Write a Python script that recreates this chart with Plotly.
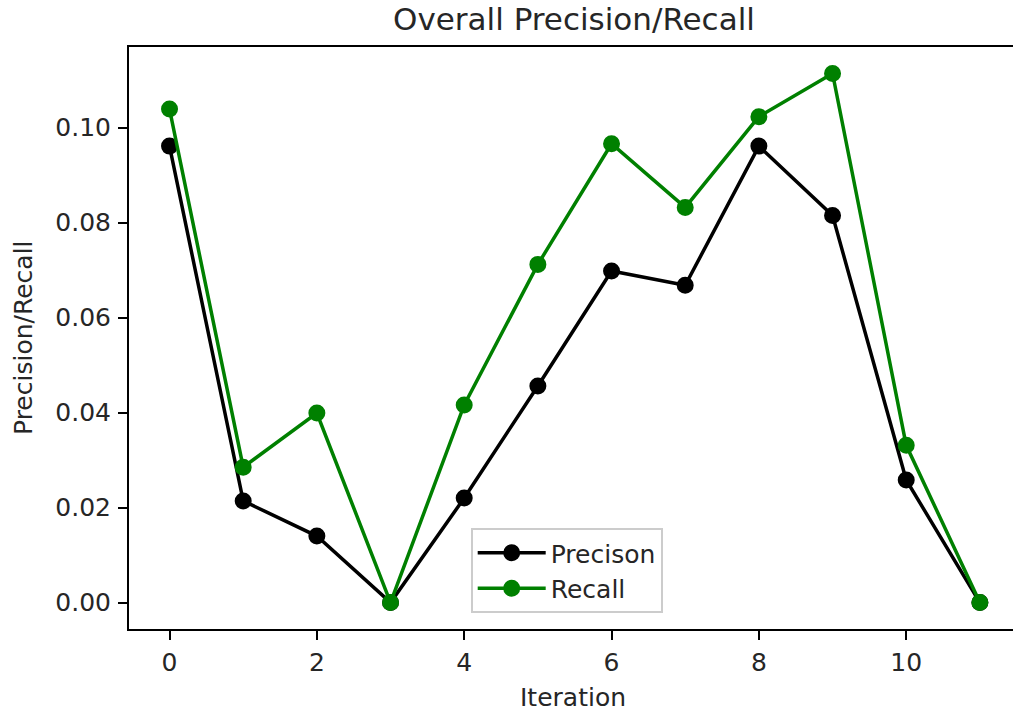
import plotly.graph_objects as go

iterations = list(range(12))
precision = [0.0961, 0.0214, 0.0140, 0.0, 0.0220, 0.0456, 0.0698, 0.0668, 0.0961, 0.0815, 0.0258, 0.0]
recall = [0.1039, 0.0285, 0.0399, 0.0, 0.0416, 0.0712, 0.0966, 0.0832, 0.1023, 0.1114, 0.0331, 0.0]
x_ticks = [0, 2, 4, 6, 8, 10]
y_ticks = [0.0, 0.02, 0.04, 0.06, 0.08, 0.10]

FONT = "DejaVu Sans"
TXT = "#262626"

fig = go.Figure()
fig.add_trace(go.Scatter(
    x=iterations, y=precision, mode="lines+markers", name="Precison",
    line=dict(color="#000000", width=3.5),
    marker=dict(color="#000000", size=15, line=dict(color="#000000", width=2)),
))
fig.add_trace(go.Scatter(
    x=iterations, y=recall, mode="lines+markers", name="Recall",
    line=dict(color="#008000", width=3.5),
    marker=dict(color="#008000", size=15, line=dict(color="#008000", width=2)),
))

W, H = 1013, 717
L, R, T, B = 129, 0, 47, 88
pw = W - L - R
px_per_unit = 73.67
xmax = -0.55 + pw / px_per_unit

fig.update_layout(
    width=W, height=H,
    margin=dict(l=L, r=R, t=T, b=B, pad=0),
    paper_bgcolor="white", plot_bgcolor="white",
    font=dict(family=FONT, size=25, color=TXT),
    showlegend=True,
    legend=dict(
        x=(470.7 - L) / pw, y=(629 - 528) / (H - T - B),
        xanchor="left", yanchor="top",
        bgcolor="rgba(255,255,255,0.8)",
        bordercolor="#cccccc", borderwidth=2,
        font=dict(family=FONT, size=25, color=TXT),
        itemwidth=68,
    ),
    xaxis=dict(
        range=[-0.55, xmax], tickmode="array", tickvals=x_ticks,
        ticktext=[str(v) for v in x_ticks],
        showgrid=False, zeroline=False,
        showline=True, linecolor="#000000", linewidth=2, mirror=True,
        ticks="outside", ticklen=9, tickwidth=2, tickcolor="#000000",
        tickfont=dict(family=FONT, size=25, color=TXT),
        ticklabelstandoff=1,
    ),
    yaxis=dict(
        range=[-0.00557, 0.11697], tickmode="array", tickvals=y_ticks,
        ticktext=[f"{v:.2f}" for v in y_ticks],
        showgrid=False, zeroline=False,
        showline=True, linecolor="#000000", linewidth=2, mirror=False,
        ticks="outside", ticklen=9, tickwidth=2, tickcolor="#000000",
        tickfont=dict(family=FONT, size=25, color=TXT),
        ticklabelstandoff=2,
    ),
    annotations=[
        dict(text="Overall Precision/Recall", xref="paper", yref="paper",
             x=(573.5 - L) / pw, y=1, xanchor="center", yanchor="bottom",
             yshift=8, showarrow=False, font=dict(family=FONT, size=31, color=TXT)),
        dict(text="Iteration", xref="paper", yref="paper",
             x=(573 - L) / pw, y=0, xanchor="center", yanchor="middle",
             yshift=-(697.5 - 629), showarrow=False,
             font=dict(family=FONT, size=25, color=TXT)),
        dict(text="Precision/Recall", xref="paper", yref="paper",
             x=0, y=0.5, xanchor="center", yanchor="middle", textangle=-90,
             xshift=-(L - 23), showarrow=False,
             font=dict(family=FONT, size=25, color=TXT)),
    ],
)

fig.write_html("out.html")
